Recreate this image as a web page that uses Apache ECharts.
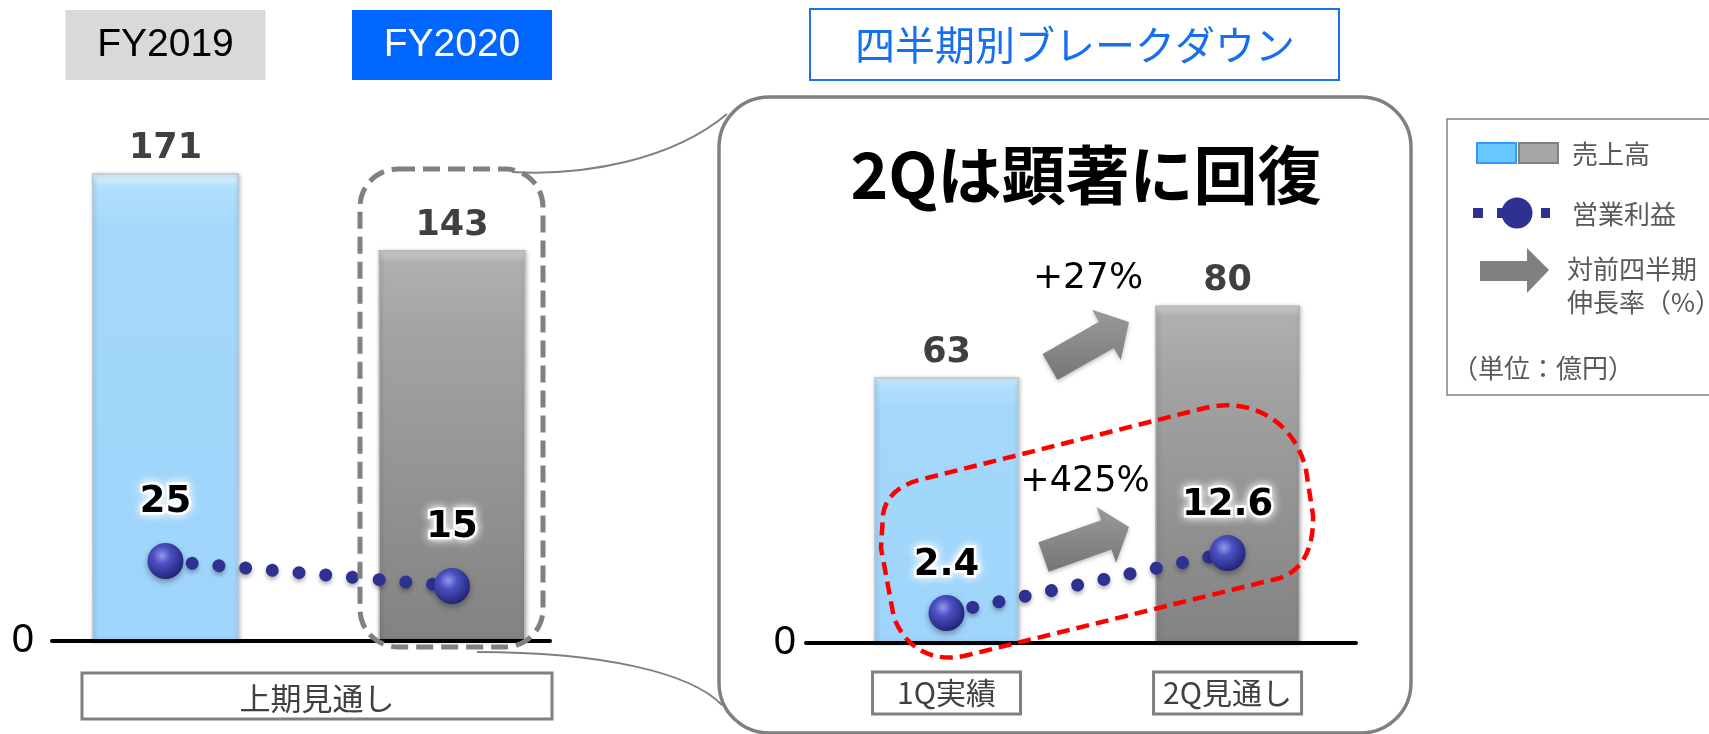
<!DOCTYPE html>
<html>
<head>
<meta charset="utf-8">
<script src="https://cdn.jsdelivr.net/npm/echarts@6/dist/echarts.min.js"></script>
<style>
  html, body { margin: 0; padding: 0; background: #ffffff; }
  #chart { width: 1709px; height: 734px; }
</style>
</head>
<body>
<div id="chart"></div>
<script>
// 上期（通期比較）
const fyCategories = ['FY2019', 'FY2020'];
const fySales = [171, 143];      // 売上高（億円）
const fyProfit = [25, 15];       // 営業利益（億円）
const halfLabel = '上期見通し';

// 四半期別ブレークダウン
const qCategories = ['1Q実績', '2Q見通し'];
const qSales = [63, 80];
const qProfit = [2.4, 12.6];

const legendTexts = ['売上高', '営業利益', '対前四半期', '伸長率（%）', '（単位：億円）'];

const NAVY = '#2e3192';
const LATIN = '"DejaVu Sans", Verdana, sans-serif';
const JP = '"Noto Sans CJK JP", sans-serif';

// decorative outlines as registered path shapes
echarts.graphic.registerShape('upperLink', echarts.graphic.extendPath('M 512 172 C 585 176 672 160 727 114', {}));
echarts.graphic.registerShape('lowerLink', echarts.graphic.extendPath('M 477 652 C 600 652 690 672 722 705', {}));
echarts.graphic.registerShape('profitLoop', echarts.graphic.extendPath(
  'M 883 515 C 885 497 900 484 923 479 L 1205 408 C 1255 396 1296 425 1306 470 L 1313 515 ' +
  'C 1314 548 1303 570 1280 578 L 968 655 C 932 664 906 648 894 618 L 881 548 Z', {}));

function lg(stops) {
  return new echarts.graphic.LinearGradient(0, 0, 0, 1, stops);
}
const blueFill = lg([
  { offset: 0, color: '#e2f6ff' },
  { offset: 0.03, color: '#b2e0fc' },
  { offset: 0.12, color: '#a3d8fb' },
  { offset: 1, color: '#9fd5fb' }
]);
const grayFill = lg([
  { offset: 0, color: '#d6d6d6' },
  { offset: 0.03, color: '#b0b0b0' },
  { offset: 0.2, color: '#a4a4a4' },
  { offset: 1, color: '#828282' }
]);
const sphere = new echarts.graphic.RadialGradient(0.4, 0.35, 0.7, [
  { offset: 0, color: '#9397ea' },
  { offset: 0.35, color: '#4b50c2' },
  { offset: 1, color: '#1d206e' }
]);
const arrowFill = lg([{ offset: 0, color: '#9a9a9a' }, { offset: 1, color: '#767676' }]);

function barItems(values) {
  return values.map((v, i) => ({
    value: [i, v],
    itemStyle: {
      color: i === 0 ? blueFill : grayFill,
      borderColor: i === 0 ? '#b9c9d4' : '#b5b5b5',
      borderWidth: 1.5,
      shadowColor: 'rgba(0,0,0,0.25)',
      shadowBlur: 4,
      shadowOffsetX: 1,
      shadowOffsetY: 1
    }
  }));
}

function profitSeries(values, xi, yi, dist) {
  return {
    name: '営業利益',
    type: 'line',
    xAxisIndex: xi,
    yAxisIndex: yi,
    z: 6,
    data: values.map((v, i) => [i, v]),
    symbol: 'circle',
    symbolSize: 36,
    itemStyle: {
      color: sphere,
      shadowColor: 'rgba(0,0,0,0.35)',
      shadowBlur: 6,
      shadowOffsetY: 3
    },
    lineStyle: {
      color: NAVY,
      width: 13,
      type: [0.01, 26.8],
      cap: 'round',
      shadowColor: 'rgba(0,0,0,0.3)',
      shadowBlur: 4,
      shadowOffsetY: 3
    },
    label: {
      show: true,
      position: 'top',
      distance: dist,
      formatter: p => String(p.value[1]),
      fontFamily: LATIN,
      fontWeight: 'bold',
      fontSize: 37,
      color: '#000',
      textBorderColor: '#ffffff',
      textBorderWidth: 5,
      textShadowColor: '#ffffff',
      textShadowBlur: 10
    }
  };
}

const salesLabel = {
  show: true,
  position: 'top',
  distance: 6,
  formatter: p => String(p.value[1]),
  fontFamily: LATIN,
  fontWeight: 'bold',
  fontSize: 35,
  lineHeight: 36,
  color: '#404040'
};

// arrow polygon from tail centre to tip
function arrowPoints(x0, y0, x1, y1, t, H, h) {
  const dx = x1 - x0, dy = y1 - y0, L = Math.hypot(dx, dy);
  const ux = dx / L, uy = dy / L, nx = -uy, ny = ux;
  const pts = [[0, -t / 2], [L - h, -t / 2], [L - h, -H / 2], [L, 0], [L - h, H / 2], [L - h, t / 2], [0, t / 2]];
  return pts.map(([a, b]) => [x0 + ux * a + nx * b, y0 + uy * a + ny * b]);
}

const salesGrowth = Math.round((qSales[1] / qSales[0] - 1) * 100);
const profitGrowth = Math.round((qProfit[1] / qProfit[0] - 1) * 100);

const chart = echarts.init(document.getElementById('chart'), null, { renderer: 'canvas' });

const option = {
  backgroundColor: '#ffffff',
  animation: false,
  grid: [
    { left: 52, top: 94, width: 498, height: 547 },
    { left: 806, top: 221, width: 550, height: 422 }
  ],
  xAxis: [
    {
      gridIndex: 0, type: 'value', min: -0.396, max: 1.342, position: 'bottom', z: 5,
      axisLine: { show: true, onZero: false, lineStyle: { color: '#000', width: 4 } },
      axisTick: { show: false }, axisLabel: { show: false }, splitLine: { show: false }
    },
    {
      gridIndex: 0, type: 'value', min: -0.396, max: 1.342, position: 'top',
      axisLine: { show: false }, axisTick: { show: false }, splitLine: { show: false },
      axisLabel: {
        show: true,
        customValues: [0, 1],
        margin: 14,
        formatter: v => (v === 0 ? '{a|' : '{b|') + fyCategories[v] + '}',
        rich: {
          a: { backgroundColor: '#d9d9d9', color: '#000000', width: 200, height: 70, lineHeight: 70, align: 'center', fontSize: 39, fontFamily: '"Liberation Sans", Arial, sans-serif' },
          b: { backgroundColor: '#0066ff', color: '#ffffff', width: 200, height: 70, lineHeight: 70, align: 'center', fontSize: 39, fontFamily: '"Liberation Sans", Arial, sans-serif' }
        }
      }
    },
    {
      gridIndex: 1, type: 'value', min: -0.5, max: 1.457, position: 'bottom', z: 5,
      axisLine: { show: true, onZero: false, lineStyle: { color: '#000', width: 4 } },
      axisTick: { show: false }, splitLine: { show: false },
      axisLabel: {
        show: true,
        customValues: [0, 1],
        margin: 29,
        formatter: v => qCategories[v],
        fontFamily: JP,
        fontSize: 30,
        color: '#404040',
        width: 148,
        height: 42,
        lineHeight: 42,
        align: 'center',
        borderColor: '#808080',
        borderWidth: 3
      }
    }
  ],
  yAxis: [
    {
      gridIndex: 0, type: 'value', min: 0, max: 200, interval: 200,
      axisLine: { show: false }, axisTick: { show: false }, splitLine: { show: false },
      axisLabel: { margin: 18, formatter: v => (v === 0 ? '0' : ''), fontSize: 40, color: '#000', fontFamily: '"Liberation Sans", Arial, sans-serif' }
    },
    { gridIndex: 0, type: 'value', min: -7, max: 211.8, show: false },
    {
      gridIndex: 1, type: 'value', min: 0, max: 100, interval: 100,
      axisLine: { show: false }, axisTick: { show: false }, splitLine: { show: false },
      axisLabel: { margin: 10, formatter: v => (v === 0 ? '0' : ''), fontSize: 40, color: '#000', fontFamily: '"Liberation Sans", Arial, sans-serif' }
    },
    { gridIndex: 1, type: 'value', min: -2.7, max: 69.05, show: false }
  ],
  series: [
    {
      name: '売上高', type: 'bar', xAxisIndex: 0, yAxisIndex: 0, barWidth: 147,
      data: barItems(fySales), label: salesLabel, z: 2
    },
    profitSeries(fyProfit, 0, 1, 22),
    {
      name: '売上高', type: 'bar', xAxisIndex: 2, yAxisIndex: 2, barWidth: 145,
      data: barItems(qSales), label: salesLabel, z: 2
    },
    profitSeries(qProfit, 2, 3, 11)
  ],
  graphic: [
    // 四半期ブレークダウンの吹き出し枠
    { type: 'rect', z: 1, shape: { x: 719, y: 97, width: 692, height: 636, r: 50 },
      style: { fill: 'none', stroke: '#808080', lineWidth: 3.5 } },
    { type: 'upperLink', z: 1, style: { fill: 'none', stroke: '#808080', lineWidth: 2 } },
    { type: 'lowerLink', z: 1, style: { fill: 'none', stroke: '#808080', lineWidth: 2 } },
    // FY2020 の破線枠
    { type: 'rect', z: 50, shape: { x: 360, y: 169, width: 183, height: 478, r: 38 },
      style: { fill: 'none', stroke: '#808080', lineWidth: 5, lineDash: [17, 8] } },
    // 営業利益の赤い破線枠
    { type: 'profitLoop', z: 50, style: { fill: 'none', stroke: '#ff0000', lineWidth: 4.5, lineDash: [13, 7] } },
    // 上期見通し ラベル枠
    { type: 'rect', shape: { x: 82, y: 673, width: 470, height: 46 },
      style: { fill: '#ffffff', stroke: '#808080', lineWidth: 3 } },
    { type: 'text', style: { text: halfLabel, x: 317, y: 698, align: 'center', verticalAlign: 'middle',
      fontFamily: JP, fontSize: 31, fill: '#404040' } },
    // 見出し
    { type: 'rect', shape: { x: 810, y: 9, width: 529, height: 71 },
      style: { fill: '#ffffff', stroke: '#1a73e8', lineWidth: 2 } },
    { type: 'text', style: { text: '四半期別ブレークダウン', x: 1075, y: 45, align: 'center', verticalAlign: 'middle',
      fontFamily: JP, fontSize: 40, fill: '#1670ee' } },
    { type: 'text', style: { text: '2Qは顕著に回復', x: 1086, y: 175, align: 'center', verticalAlign: 'middle',
      fontFamily: JP, fontWeight: 'bold', fontSize: 64, fill: '#000000' } },
    // 伸長率の矢印と数値
    { type: 'polygon', z: 3, shape: { points: arrowPoints(1050, 367, 1129, 322, 30, 58, 26) },
      style: { fill: arrowFill, shadowColor: 'rgba(0,0,0,0.25)', shadowBlur: 4, shadowOffsetY: 2 } },
    { type: 'polygon', z: 3, shape: { points: arrowPoints(1043.5, 557, 1129, 527, 31, 59, 24) },
      style: { fill: arrowFill, shadowColor: 'rgba(0,0,0,0.25)', shadowBlur: 4, shadowOffsetY: 2 } },
    { type: 'text', style: { text: '+' + salesGrowth + '%', x: 1088, y: 279, align: 'center', verticalAlign: 'middle',
      fontFamily: LATIN, fontSize: 36, fill: '#000' } },
    { type: 'text', style: { text: '+' + profitGrowth + '%', x: 1085, y: 482, align: 'center', verticalAlign: 'middle',
      fontFamily: LATIN, fontSize: 35, fill: '#000' } },
    // 凡例
    { type: 'rect', shape: { x: 1447, y: 119, width: 300, height: 276 },
      style: { fill: 'none', stroke: '#808080', lineWidth: 1.5 } },
    { type: 'rect', shape: { x: 1477, y: 143, width: 39, height: 20 },
      style: { fill: '#66c8ff', stroke: '#3399ff', lineWidth: 2 } },
    { type: 'rect', shape: { x: 1519, y: 143, width: 39, height: 20 },
      style: { fill: '#a6a6a6', stroke: '#808080', lineWidth: 2 } },
    { type: 'text', style: { text: legendTexts[0], x: 1572, y: 154, verticalAlign: 'middle',
      fontFamily: JP, fontSize: 26, fill: '#595959' } },
    { type: 'rect', shape: { x: 1473, y: 208, width: 10, height: 10 }, style: { fill: NAVY } },
    { type: 'rect', shape: { x: 1497, y: 208, width: 12, height: 10 }, style: { fill: NAVY } },
    { type: 'circle', shape: { cx: 1517, cy: 213, r: 15.5 }, style: { fill: NAVY } },
    { type: 'rect', shape: { x: 1541, y: 208, width: 9, height: 10 }, style: { fill: NAVY } },
    { type: 'text', style: { text: legendTexts[1], x: 1572, y: 214, verticalAlign: 'middle',
      fontFamily: JP, fontSize: 26, fill: '#595959' } },
    { type: 'polygon', shape: { points: [[1480, 261], [1527, 261], [1527, 248], [1549, 270], [1527, 293], [1527, 281], [1480, 281]] },
      style: { fill: '#808080' } },
    { type: 'text', style: { text: legendTexts[2], x: 1567, y: 269, verticalAlign: 'middle',
      fontFamily: JP, fontSize: 26, fill: '#595959' } },
    { type: 'text', style: { text: legendTexts[3], x: 1567, y: 302, verticalAlign: 'middle',
      fontFamily: JP, fontSize: 26, fill: '#595959' } },
    { type: 'text', style: { text: legendTexts[4], x: 1452, y: 368, verticalAlign: 'middle',
      fontFamily: JP, fontSize: 26, fill: '#595959' } }
  ]
};

chart.setOption(option);
</script>
</body>
</html>
